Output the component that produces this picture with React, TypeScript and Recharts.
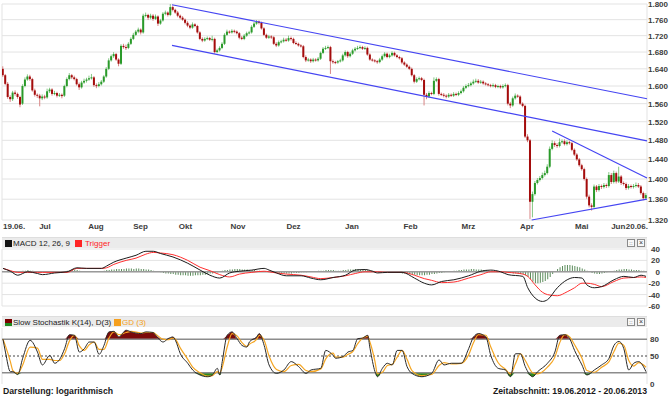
import {
  Area,
  Bar,
  CartesianGrid,
  ComposedChart,
  Line,
  ReferenceLine,
  XAxis,
  YAxis,
} from "recharts";

const FONT = "'Liberation Sans', Arial, sans-serif";

// trading day index range of the period 19.06.2012 - 20.06.2013
const X_MIN = -0.4;
const X_MAX = 261.4;

const startLabel = "19.06.";
const endLabel = "20.06.";
const monthNames = ["Jul", "Aug", "Sep", "Okt", "Nov", "Dez", "Jan", "Feb", "Mrz", "Apr", "Mai", "Jun"];
const monthTicks = [8.1, 30.0, 49.5, 66.2, 86.0, 108.8, 131.1, 156.3, 178.6, 203.3, 226.1, 247.8];

const priceTicks = [1.32, 1.36, 1.4, 1.44, 1.48, 1.52, 1.56, 1.6, 1.64, 1.68, 1.72, 1.76, 1.8];
const macdTicks = [-60, -40, -20, 0, 20, 40];
const stochTicks = [0, 50, 80];

// daily prices, in thousandths
const opens = [
  1640, 1625, 1605, 1575, 1570, 1585, 1582, 1575, 1560, 1600,
  1615, 1622, 1616, 1590, 1580, 1578, 1572, 1576, 1574, 1588,
  1592, 1582, 1584, 1578, 1580, 1578, 1600, 1616, 1625, 1620,
  1616, 1604, 1597, 1608, 1612, 1615, 1618, 1620, 1602, 1600,
  1604, 1610, 1622, 1640, 1660, 1670, 1675, 1662, 1652, 1695,
  1692, 1690, 1700, 1712, 1722, 1730, 1735, 1728, 1770, 1772,
  1765, 1770, 1762, 1768, 1750, 1758, 1775, 1778, 1772, 1792,
  1785, 1778, 1770, 1765, 1760, 1752, 1745, 1740, 1748, 1744,
  1728, 1712, 1708, 1712, 1714, 1710, 1712, 1680, 1684, 1690,
  1700, 1722, 1730, 1728, 1732, 1730, 1726, 1715, 1712, 1720,
  1726, 1728, 1742, 1750, 1755, 1752, 1738, 1722, 1715, 1718,
  1716, 1700, 1696, 1704, 1706, 1710, 1708, 1714, 1712, 1702,
  1700, 1696, 1694, 1668, 1660, 1662, 1658, 1662, 1660, 1664,
  1678, 1688, 1690, 1692, 1658, 1656, 1655, 1658, 1660, 1672,
  1680, 1670, 1676, 1684, 1688, 1690, 1692, 1688, 1690, 1674,
  1662, 1660, 1658, 1656, 1662, 1670, 1676, 1668, 1672, 1678,
  1672, 1668, 1665, 1655, 1650, 1645, 1640, 1625, 1610, 1616,
  1618, 1614, 1580, 1576, 1584, 1582, 1612, 1616, 1582, 1580,
  1578, 1576, 1580, 1578, 1582, 1580, 1584, 1588, 1596, 1600,
  1602, 1606, 1610, 1612, 1608, 1610, 1606, 1604, 1602, 1600,
  1602, 1598, 1600, 1597, 1600, 1602, 1560, 1556, 1572, 1578,
  1576, 1560, 1555, 1488, 1480, 1355, 1370, 1392, 1398, 1402,
  1408, 1412, 1425, 1462, 1474, 1470, 1468, 1476, 1478, 1472,
  1476, 1474, 1460, 1450, 1440, 1428, 1420, 1400, 1365, 1348,
  1345, 1385, 1378, 1386, 1384, 1388, 1386, 1408, 1394, 1412,
  1395, 1405, 1392, 1390, 1382, 1386, 1384, 1386, 1388, 1385,
  1372, 1362,
];
const highs = [
  1646, 1628, 1609, 1579, 1589, 1590, 1585, 1578, 1604, 1620,
  1627, 1626, 1619, 1594, 1583, 1582, 1581, 1580, 1594, 1596,
  1595, 1589, 1587, 1584, 1583, 1603, 1620, 1630, 1628, 1624,
  1619, 1608, 1612, 1617, 1619, 1624, 1628, 1623, 1606, 1609,
  1614, 1625, 1644, 1665, 1674, 1680, 1678, 1665, 1699, 1700,
  1698, 1704, 1716, 1727, 1734, 1740, 1738, 1775, 1778, 1775,
  1775, 1774, 1773, 1771, 1762, 1779, 1783, 1781, 1800, 1796,
  1788, 1782, 1773, 1769, 1763, 1756, 1748, 1753, 1751, 1747,
  1731, 1716, 1716, 1718, 1717, 1720, 1715, 1688, 1694, 1704,
  1726, 1735, 1733, 1736, 1735, 1733, 1729, 1719, 1724, 1730,
  1732, 1746, 1754, 1759, 1758, 1755, 1741, 1725, 1722, 1721,
  1719, 1704, 1708, 1710, 1715, 1714, 1720, 1718, 1715, 1706,
  1703, 1699, 1697, 1672, 1666, 1665, 1666, 1665, 1668, 1681,
  1692, 1695, 1696, 1695, 1662, 1659, 1661, 1664, 1676, 1684,
  1683, 1680, 1688, 1692, 1695, 1696, 1695, 1694, 1693, 1677,
  1665, 1663, 1661, 1666, 1674, 1680, 1679, 1676, 1682, 1681,
  1675, 1671, 1668, 1658, 1653, 1648, 1643, 1628, 1620, 1622,
  1621, 1617, 1584, 1588, 1587, 1620, 1620, 1619, 1585, 1584,
  1581, 1584, 1583, 1586, 1585, 1588, 1592, 1600, 1604, 1607,
  1610, 1615, 1617, 1616, 1614, 1613, 1609, 1607, 1605, 1606,
  1605, 1603, 1603, 1604, 1606, 1605, 1564, 1576, 1583, 1581,
  1579, 1563, 1558, 1493, 1483, 1375, 1396, 1402, 1406, 1413,
  1417, 1430, 1467, 1480, 1478, 1474, 1484, 1482, 1482, 1480,
  1479, 1477, 1463, 1453, 1443, 1431, 1423, 1403, 1369, 1352,
  1389, 1388, 1390, 1389, 1392, 1391, 1414, 1412, 1417, 1415,
  1425, 1408, 1395, 1393, 1390, 1389, 1390, 1393, 1392, 1388,
  1375, 1372,
];
const lows = [
  1621, 1602, 1571, 1564, 1566, 1578, 1571, 1552, 1557, 1597,
  1612, 1612, 1587, 1576, 1573, 1554, 1568, 1570, 1571, 1584,
  1578, 1579, 1574, 1575, 1572, 1575, 1597, 1613, 1616, 1613,
  1601, 1591, 1594, 1605, 1608, 1612, 1615, 1598, 1595, 1597,
  1601, 1607, 1619, 1637, 1657, 1666, 1659, 1646, 1649, 1688,
  1685, 1687, 1697, 1709, 1719, 1726, 1723, 1725, 1766, 1759,
  1761, 1757, 1759, 1744, 1747, 1755, 1771, 1768, 1769, 1781,
  1775, 1766, 1761, 1757, 1748, 1741, 1736, 1737, 1741, 1725,
  1709, 1704, 1705, 1709, 1707, 1706, 1676, 1677, 1681, 1687,
  1697, 1719, 1725, 1725, 1726, 1723, 1711, 1709, 1709, 1717,
  1723, 1725, 1739, 1747, 1748, 1735, 1719, 1712, 1712, 1712,
  1697, 1692, 1693, 1701, 1703, 1705, 1705, 1708, 1699, 1697,
  1693, 1691, 1665, 1656, 1657, 1654, 1655, 1657, 1657, 1661,
  1675, 1685, 1687, 1628, 1652, 1651, 1652, 1655, 1657, 1669,
  1666, 1667, 1673, 1681, 1685, 1687, 1685, 1685, 1671, 1659,
  1657, 1655, 1652, 1653, 1659, 1667, 1665, 1665, 1669, 1669,
  1665, 1662, 1651, 1647, 1642, 1637, 1622, 1606, 1607, 1613,
  1611, 1556, 1570, 1573, 1579, 1579, 1609, 1578, 1577, 1574,
  1572, 1573, 1575, 1575, 1577, 1577, 1581, 1585, 1593, 1597,
  1599, 1603, 1607, 1605, 1605, 1603, 1601, 1599, 1597, 1597,
  1595, 1595, 1594, 1594, 1597, 1556, 1550, 1553, 1569, 1573,
  1557, 1552, 1485, 1476, 1322, 1325, 1367, 1389, 1395, 1399,
  1405, 1409, 1422, 1459, 1466, 1464, 1465, 1473, 1469, 1469,
  1471, 1457, 1447, 1437, 1425, 1417, 1397, 1361, 1344, 1338,
  1342, 1374, 1375, 1380, 1381, 1382, 1383, 1390, 1391, 1391,
  1392, 1388, 1387, 1378, 1379, 1381, 1381, 1383, 1382, 1369,
  1358, 1359,
];
const closes = [
  1625, 1605, 1575, 1570, 1585, 1582, 1575, 1558, 1600, 1615,
  1622, 1616, 1590, 1580, 1578, 1572, 1576, 1574, 1588, 1592,
  1582, 1584, 1578, 1580, 1577, 1600, 1616, 1625, 1620, 1616,
  1604, 1597, 1608, 1612, 1615, 1618, 1620, 1602, 1600, 1604,
  1610, 1622, 1640, 1660, 1670, 1675, 1662, 1652, 1695, 1692,
  1690, 1700, 1712, 1722, 1730, 1735, 1728, 1770, 1772, 1765,
  1770, 1762, 1768, 1750, 1758, 1775, 1778, 1772, 1792, 1785,
  1778, 1770, 1765, 1760, 1752, 1745, 1740, 1748, 1744, 1728,
  1712, 1708, 1712, 1714, 1710, 1712, 1680, 1684, 1690, 1700,
  1722, 1730, 1728, 1732, 1730, 1726, 1715, 1712, 1720, 1726,
  1728, 1742, 1750, 1755, 1752, 1738, 1722, 1715, 1718, 1716,
  1700, 1696, 1704, 1706, 1710, 1708, 1714, 1712, 1702, 1700,
  1696, 1694, 1668, 1660, 1662, 1658, 1662, 1660, 1664, 1678,
  1688, 1690, 1692, 1658, 1656, 1655, 1658, 1660, 1672, 1680,
  1670, 1676, 1684, 1688, 1690, 1692, 1688, 1690, 1674, 1662,
  1660, 1658, 1656, 1662, 1670, 1676, 1668, 1672, 1678, 1672,
  1668, 1665, 1655, 1650, 1645, 1640, 1625, 1610, 1616, 1618,
  1614, 1580, 1576, 1584, 1582, 1612, 1616, 1582, 1580, 1578,
  1576, 1580, 1578, 1582, 1580, 1584, 1588, 1596, 1600, 1602,
  1606, 1610, 1612, 1608, 1610, 1606, 1604, 1602, 1600, 1602,
  1598, 1600, 1597, 1600, 1602, 1560, 1556, 1572, 1578, 1576,
  1560, 1555, 1488, 1480, 1355, 1370, 1392, 1398, 1402, 1408,
  1412, 1425, 1462, 1474, 1470, 1468, 1476, 1478, 1472, 1476,
  1474, 1460, 1450, 1440, 1428, 1420, 1400, 1365, 1348, 1345,
  1385, 1378, 1386, 1384, 1388, 1386, 1408, 1394, 1412, 1395,
  1405, 1392, 1390, 1382, 1386, 1384, 1386, 1388, 1385, 1372,
  1362, 1368,
];

// trend lines drawn on the price chart
const trendLines = [
  { x1: 68.6, y1: 1.798, x2: 261.4, y2: 1.571 },
  { x1: 68.6, y1: 1.696, x2: 261.4, y2: 1.479 },
  { x1: 222.9, y1: 1.5, x2: 261.4, y2: 1.402 },
  { x1: 214.6, y1: 1.32, x2: 261.4, y2: 1.36 },
];

// MACD 12, 26, 9
const macdDays = [
  0, 3, 6, 10, 14, 16, 21, 26, 30, 34,
  40, 42, 45, 50, 54, 58, 61, 64, 69, 75,
  80, 84, 88, 92, 96, 101, 106, 108, 111, 115,
  121, 125, 129, 134, 139, 143, 147, 150, 152, 156,
  162, 167, 171, 174, 178, 183, 189, 194, 198, 202,
  205, 211, 213, 216, 219, 221, 225, 229, 232, 235,
  237, 240, 243, 248, 252, 256, 259, 261,
];
const macdLine = [
  6, 1, -6, 0, -3, -5, -2, 0, 7, 6,
  6, 10, 17, 24, 29, 36, 36, 32, 26, 15,
  3, -6, -11, -2, 1, 3, 6, 3, -2, -7,
  -7, -11, -14, -10, -6, 3, 4, 1, -2, -1,
  -1, -11, -20, -23, -17, -14, -7, 1, 3, 0,
  -5, -8, -28, -46, -52, -49, -28, -14, -10, -11,
  -23, -28, -26, -14, -8, -10, -6, -8,
];
const triggerLine = [
  6, 2, -1, -1, -1, -1, -1, -1, 6, 6,
  6, 7, 13, 20, 24, 31, 34, 33, 30, 20,
  8, 2, -5, -9, -4, -1, 1, 0, -2, -4,
  -6, -9, -12, -10, -7, -3, 0, 0, 0, -1,
  -1, -6, -12, -15, -19, -18, -11, -5, 0, 0,
  -1, -4, -8, -23, -36, -40, -42, -35, -28, -20,
  -20, -22, -26, -17, -11, -10, -9, -10,
];
const histogram = [
  0, 0, -1, -1, -2, -1, -1,
  1, 2, 2, 3, 2, 2, 1, 1,
  0, 0, -1, -1, 0, 0, -1, -1, 0, 1, 1,
  2, 3, 4, 4, 3, 2, 1,
  1, 0, 0, 1, 0, 0, 1, 1,
  2, 3, 3, 4, 4, 5, 5, 5, 5, 6, 6, 6, 5, 6, 6, 5, 5, 4, 4, 3, 2, 1,
  0, -1, -2, -3, -3, -4, -4, -5, -5, -6, -6, -6, -7, -7, -7, -6, -6, -6, -5, -5, -4, -3, -3, -2, -1,
  1, 2, 3, 3, 4, 4, 5, 5, 5, 4, 4, 4, 3, 3, 3, 2, 2, 1, 1, 0, 0, -1, -1,
  -2, -2, -2, -3, -3, -3, -3, -2, -2, -2, -1, -1, -1, 0,
  0, 1, 1, 2, 2, 2, 3, 3, 3, 3, 2, 2, 2,
  3, 3, 4, 4, 4, 5, 5, 4, 4, 3, 3, 2, 2, 1, 1, 0, 0, -1,
  -1, -1, -1, -2, -2, -2, -3, -3, -3, -4,
  -5, -5, -6, -6, -6, -6, -5, -5, -4, -4, -3, -2, -2, -1, 0,
  1, 1, 2, 2, 3, 3, 4, 4, 4, 5, 5, 4, 4, 4, 3, 3, 2, 2, 1,
  1, 0, 0, -1, -1, -2, -2, -3, -3, -3, -4, -4,
  -6, -9, -13, -17, -20, -20, -19, -18, -16, -13, -9,
  -4, 1, 5, 8, 10, 12, 12, 12, 11, 10, 9, 8, 6, 4, 2, 0, -2, -3,
  -4, -4, -3, -2, -1, 0, 1,
  2, 3, 4, 4, 5, 5, 4, 4, 3, 3, 3, 2, 2, 1,
];

// Slow Stochastik K(14), D(3)
const stochDays = [
  0, 1, 3, 4, 6, 8, 11, 14, 16, 19,
  21, 23, 25, 27, 29, 31, 33, 35, 37, 39,
  41, 43, 45, 47, 50, 52, 56, 58, 61, 62,
  65, 67, 69, 70, 72, 75, 77, 80, 83, 85,
  87, 88, 89, 91, 93, 95, 97, 99, 100, 103,
  104, 106, 108, 111, 114, 117, 120, 123, 125, 129,
  131, 134, 135, 138, 140, 142, 144, 146, 148, 149,
  151, 152, 154, 156, 158, 160, 162, 164, 166, 170,
  174, 177, 179, 182, 186, 189, 191, 193, 196, 198,
  201, 204, 206, 208, 210, 212, 215, 217, 221, 224,
  226, 228, 230, 232, 235, 237, 240, 243, 246, 248,
  250, 252, 254, 256, 258, 261,
];
const stochK = [
  80, 57, 22, 22, 17, 46, 78, 57, 34, 51,
  37, 44, 63, 88, 87, 57, 63, 75, 75, 53,
  69, 93, 94, 84, 96, 93, 90, 93, 92, 87,
  75, 81, 84, 78, 54, 37, 25, 16, 13, 16,
  28, 16, 40, 87, 93, 81, 69, 66, 75, 84,
  90, 69, 34, 19, 25, 40, 31, 19, 25, 28,
  60, 51, 46, 49, 57, 60, 81, 82, 87, 63,
  22, 13, 28, 37, 34, 60, 60, 31, 19, 13,
  19, 43, 34, 37, 37, 63, 84, 90, 84, 51,
  28, 25, 13, 54, 54, 31, 13, 22, 37, 57,
  87, 88, 81, 60, 34, 16, 25, 34, 46, 69,
  76, 63, 25, 37, 40, 22,
];
const stochD = [
  80, 68, 40, 24, 19, 34, 66, 64, 44, 44,
  42, 42, 54, 77, 87, 68, 60, 70, 75, 62,
  62, 82, 93, 88, 92, 94, 91, 92, 92, 89,
  80, 79, 82, 80, 64, 44, 30, 20, 14, 15,
  22, 20, 30, 66, 90, 86, 74, 67, 71, 80,
  87, 78, 50, 26, 22, 33, 35, 24, 22, 27,
  45, 55, 48, 48, 53, 58, 72, 82, 85, 74,
  40, 18, 21, 33, 35, 48, 60, 44, 24, 15,
  17, 33, 38, 36, 37, 52, 74, 88, 87, 66,
  38, 26, 18, 36, 54, 42, 20, 18, 30, 48,
  74, 88, 84, 70, 46, 24, 21, 30, 40, 58,
  73, 69, 42, 32, 38, 30,
];

const candleRows = closes.map((c, i) => ({
  i,
  open: opens[i] / 1000,
  high: highs[i] / 1000,
  low: lows[i] / 1000,
  close: c / 1000,
}));

const macdRows: { i: number; h: number; macd?: number; trig?: number }[] = histogram.map((h, i) => ({ i, h }));
macdDays.forEach((d, k) => {
  macdRows[d].macd = macdLine[k];
  macdRows[d].trig = triggerLine[k];
});

const stochRows = stochDays.map((d, k) => ({ i: d, k: stochK[k], d: stochD[k] }));

const gridTicks = [X_MIN, ...monthTicks, X_MAX];
const labelTicks = [
  X_MIN,
  ...monthTicks.map((t, k) => (t + (monthTicks[k + 1] ?? X_MAX)) / 2),
  X_MAX,
];

const Candle = (props: any) => {
  const { x, y, width, height, payload } = props;
  if (!payload || height == null) return null;
  const { open, close, high, low } = payload;
  const top = Math.min(y, y + height);
  const span = Math.abs(height);
  const lnSpan = Math.log(high) - Math.log(low) || 1;
  const toY = (v: number) => top + (span * (Math.log(high) - Math.log(v))) / lnSpan;
  const cx = x + width / 2;
  const up = close >= open;
  const bTop = toY(Math.max(open, close));
  const bBot = toY(Math.min(open, close));
  return (
    <g>
      <line x1={cx} x2={cx} y1={top} y2={top + span} stroke={up ? "#86c886" : "#d88484"} strokeWidth={1} />
      <rect x={cx - 1} y={bTop} width={2} height={Math.max(1, bBot - bTop)} fill={up ? "#2a9a2a" : "#a40c0c"} />
    </g>
  );
};

const DateTick = ({ x, y, index }: any) => {
  let label = monthNames[index - 1];
  let anchor = "middle";
  // the last month label is pulled left so it clears the end date
  let dx = index === monthNames.length ? -12 : -5;
  if (index === 0) {
    label = startLabel;
    anchor = "start";
    dx = 1;
  } else if (index === labelTicks.length - 1) {
    label = endLabel;
    anchor = "end";
    dx = 1;
  }
  return (
    <text x={x + dx} y={y + 9} textAnchor={anchor} fontSize={8} fontWeight="bold" fontFamily={FONT} fill="#3c3c3c">
      {label}
    </text>
  );
};

const PriceTick = ({ x, y, payload }: any) => (
  <text x={x} y={y + 3} textAnchor="start" fontSize={8} fontWeight="bold" fontFamily={FONT} fill="#3c3c3c">
    {Number(payload.value).toFixed(3)}
  </text>
);

const MacdTick = ({ x, y, payload }: any) => (
  <text x={x + 13} y={y + 3} textAnchor="end" fontSize={8} fontWeight="bold" fontFamily={FONT} fill="#3c3c3c">
    {payload.value}
  </text>
);

const StochTick = ({ x, y, payload }: any) => (
  <text x={x + 3} y={y + 3} textAnchor="start" fontSize={8} fontWeight="bold" fontFamily={FONT} fill="#3c3c3c">
    {payload.value}
  </text>
);

const gridAxis = (
  <XAxis
    dataKey="i"
    type="number"
    domain={[X_MIN, X_MAX]}
    ticks={gridTicks}
    interval={0}
    tick={false}
    axisLine={false}
    tickLine={false}
    height={0}
    allowDataOverflow
  />
);

const box = (left: number, color: string, extra: any = {}) => (
  <span
    style={{ position: "absolute", left, top: 2, width: 7, height: 7, background: color, ...extra }}
  />
);

const icons = (
  <>
    <span style={{ position: "absolute", left: 625, top: 1, width: 6, height: 6, border: "1px solid #8a8a8a", background: "#f7f7f7", fontSize: 6, lineHeight: "6px", textAlign: "center", color: "#333" }}>::</span>
    <span style={{ position: "absolute", left: 635, top: 1, width: 6, height: 6, border: "1px solid #8a8a8a", background: "#f7f7f7", fontSize: 7, lineHeight: "6px", textAlign: "center", color: "#333" }}>×</span>
  </>
);

const headerStyle: any = {
  position: "absolute",
  left: 2,
  width: 645,
  height: 10,
  background: "#ebebeb",
  borderTop: "1px solid #dedede",
  fontSize: 8,
  lineHeight: "11px",
  color: "#222",
};

export default function App() {
  return (
    <div
      style={{
        position: "absolute",
        left: 0,
        top: 0,
        width: 670,
        height: 396,
        background: "#fff",
        overflow: "hidden",
        fontFamily: FONT,
      }}
    >
      <div style={{ position: "absolute", left: 0, top: 0 }}>
        <ComposedChart width={670} height={236} data={candleRows} margin={{ top: 4, right: 0, bottom: 0, left: 2 }}>
          <CartesianGrid stroke="#e3e3e3" />
          {gridAxis}
          <XAxis
            xAxisId="lbl"
            dataKey="i"
            type="number"
            domain={[X_MIN, X_MAX]}
            ticks={labelTicks}
            interval={0}
            tick={<DateTick />}
            axisLine={false}
            tickLine={false}
            tickSize={0}
            tickMargin={0}
            height={16}
            allowDataOverflow
          />
          <YAxis
            orientation="right"
            width={23}
            scale="log"
            domain={[1.32, 1.8]}
            ticks={priceTicks}
            interval={0}
            allowDataOverflow
            axisLine={false}
            tickLine={false}
            tickSize={0}
            tickMargin={1}
            tick={<PriceTick />}
          />
          <Bar
            dataKey={(r: any) => [r.low, r.high]}
            barSize={2}
            shape={(p: any) => <Candle {...p} />}
            isAnimationActive={false}
          />
          {trendLines.map((t, k) => (
            <ReferenceLine
              key={k}
              segment={[
                { x: t.x1, y: t.y1 },
                { x: t.x2, y: t.y2 },
              ]}
              stroke="#4545f2"
              strokeWidth={1.2}
              ifOverflow="visible"
            />
          ))}
        </ComposedChart>
      </div>

      <div style={{ ...headerStyle, top: 237 }}>
        {box(3, "#111")}
        <span style={{ position: "absolute", left: 11, top: 0 }}>MACD 12, 26, 9</span>
        {box(73, "#ff2424")}
        <span style={{ position: "absolute", left: 83, top: 0, color: "#ff2424" }}>Trigger</span>
        {icons}
      </div>

      <div style={{ position: "absolute", left: 0, top: 244 }}>
        <ComposedChart width={670} height={66} data={macdRows} margin={{ top: 5, right: 0, bottom: 4, left: 2 }}>
          <CartesianGrid stroke="#e3e3e3" />
          {gridAxis}
          <YAxis
            orientation="right"
            width={23}
            domain={[-60, 40]}
            ticks={macdTicks}
            interval={0}
            allowDataOverflow
            axisLine={false}
            tickLine={false}
            tickSize={0}
            tickMargin={0}
            tick={<MacdTick />}
          />
          <ReferenceLine y={0} stroke="#9a9a9a" strokeWidth={1.5} />
          <Bar dataKey="h" barSize={1} fill="#5c8c5c" isAnimationActive={false} />
          <Line dataKey="trig" type="monotone" stroke="#ff3030" strokeWidth={1} dot={false} connectNulls isAnimationActive={false} />
          <Line dataKey="macd" type="monotone" stroke="#1c1c1c" strokeWidth={1} dot={false} connectNulls isAnimationActive={false} />
        </ComposedChart>
      </div>

      <div style={{ ...headerStyle, top: 316 }}>
        {box(3, "#7a0000", { background: "linear-gradient(#7a0000 55%, #1f8a1f 55%)" })}
        <span style={{ position: "absolute", left: 11, top: 0 }}>Slow Stochastik K(14), D(3)</span>
        {box(112, "#f5a020")}
        <span style={{ position: "absolute", left: 120, top: 0, color: "#f5a020" }}>GD (3)</span>
        {icons}
      </div>

      <div style={{ position: "absolute", left: 0, top: 322 }}>
        <ComposedChart width={670} height={67} data={stochRows} margin={{ top: 6, right: 0, bottom: 5, left: 2 }}>
          <CartesianGrid stroke="#e3e3e3" horizontal={false} />
          {gridAxis}
          <YAxis
            orientation="right"
            width={23}
            domain={[0, 100]}
            ticks={stochTicks}
            interval={0}
            allowDataOverflow
            axisLine={false}
            tickLine={false}
            tickSize={0}
            tickMargin={0}
            tick={<StochTick />}
          />
          <ReferenceLine y={80} stroke="#8c8c8c" strokeWidth={1.5} />
          <ReferenceLine y={20} stroke="#8c8c8c" strokeWidth={1.5} />
          <ReferenceLine y={50} stroke="#444" strokeDasharray="2 2" />
          <Area
            dataKey={(r: any) => [80, Math.max(80, r.k)]}
            type="monotone"
            stroke="none"
            fill="#7c0a0a"
            fillOpacity={1}
            isAnimationActive={false}
          />
          <Area
            dataKey={(r: any) => [Math.min(20, r.k), 20]}
            type="monotone"
            stroke="none"
            fill="#2c8a1c"
            fillOpacity={1}
            isAnimationActive={false}
          />
          <Line dataKey="d" type="monotone" stroke="#f5a623" strokeWidth={1.2} dot={false} isAnimationActive={false} />
          <Line dataKey="k" type="monotone" stroke="#2a2a2a" strokeWidth={1} dot={false} isAnimationActive={false} />
        </ComposedChart>
      </div>

      <div style={{ position: "absolute", left: 3, top: 386, fontSize: 8.7, fontWeight: "bold", color: "#1a1a1a", lineHeight: "11px" }}>
        Darstellung: logarithmisch
      </div>
      <div style={{ position: "absolute", right: 23, top: 386, fontSize: 8.7, fontWeight: "bold", color: "#1a1a1a", lineHeight: "11px", whiteSpace: "nowrap" }}>
        Zeitabschnitt: 19.06.2012 - 20.06.2013
      </div>
    </div>
  );
}
